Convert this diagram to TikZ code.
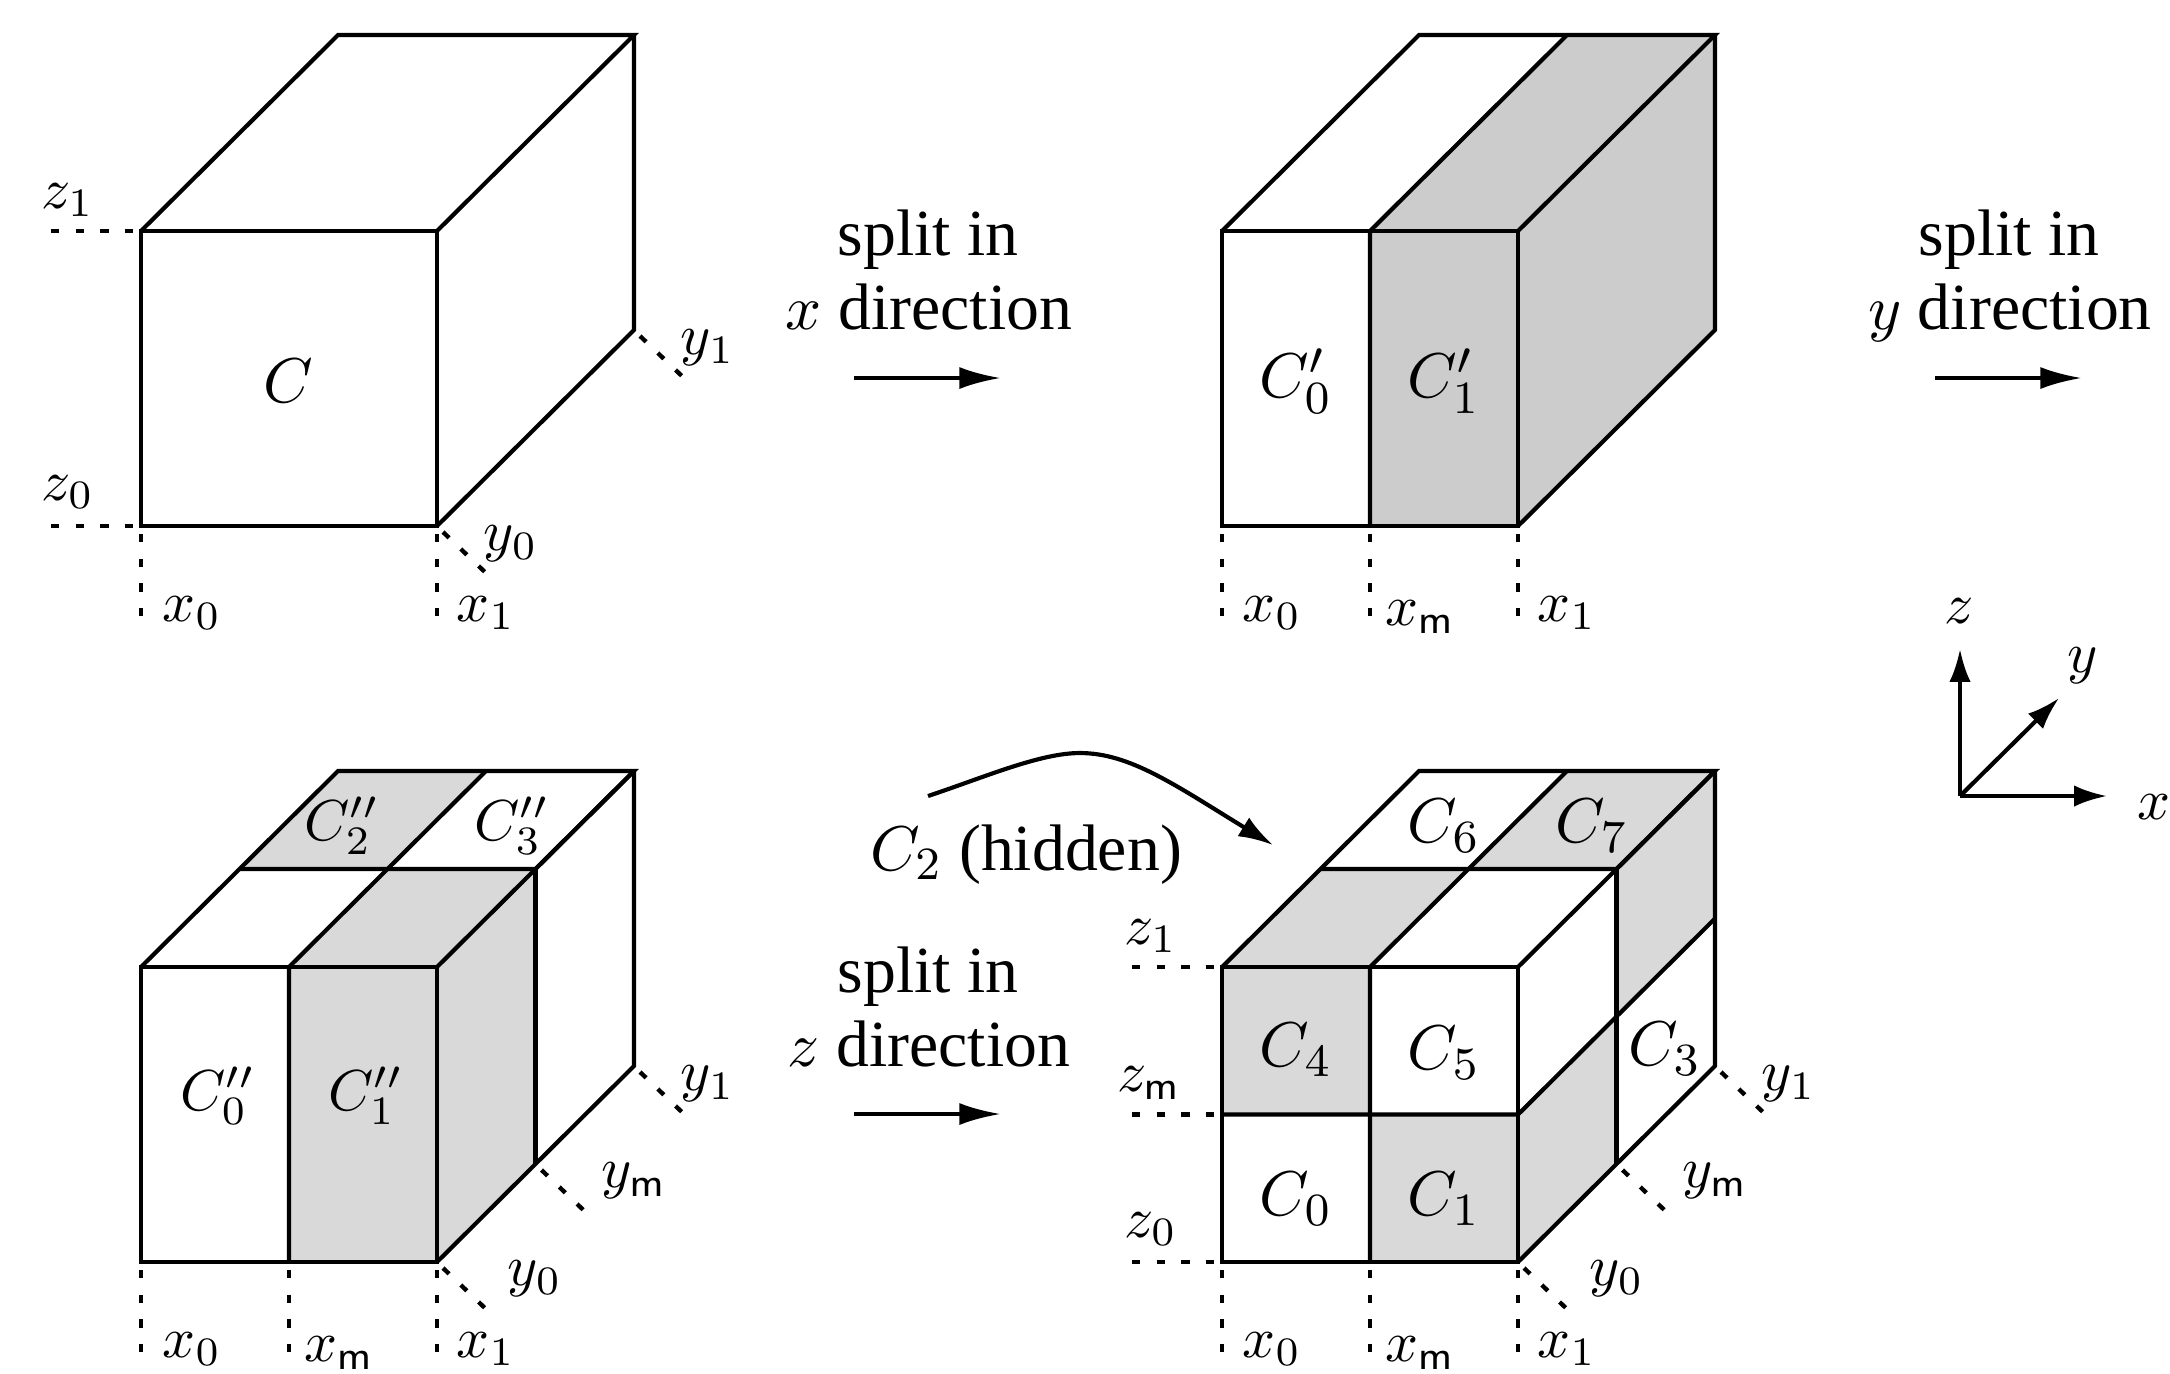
\documentclass[tikz,border=0pt]{standalone}
\usepackage[no-math]{fontspec}
\setmainfont{Liberation Serif}
\usetikzlibrary{arrows.meta,calc}
\definecolor{grayB}{HTML}{CCCCCC}
\definecolor{grayC}{HTML}{D9D9D9}
\tikzset{
  edge/.style={line width=0.72pt,line join=miter,line cap=butt},
  tick/.style={line width=0.75pt,dash pattern=on 1.45pt off 2.81pt},
  lbl/.style={inner sep=0pt,outer sep=0pt},
  cell/.style={inner sep=0pt,outer sep=0pt,font=\fontsize{10.95}{13}\selectfont},
  captxt/.style={inner sep=0pt,outer sep=0pt,anchor=base,font=\fontsize{11.4}{13}\selectfont},
  arr/.style={line width=0.72pt,-{Latex[length=7.2pt,width=3.8pt]}},
  axarr/.style={line width=0.72pt,-{Latex[length=5.7pt,width=3.7pt]}}
}
% grid of named points: <name><i><j><k>, i along x, j along depth, k upward
\newcommand\mkgrid[3]{%
  \foreach \i in {0,1,2}{\foreach \j in {0,1,2}{\foreach \k in {0,1,2}{%
    \coordinate (#1\i\j\k) at ({#2+148*\i+98.5*\j},{#3-98*\j-147.5*\k});
  }}}%
}
% dotted ticks below / beside a cube
\newcommand\xtick[2]{\coordinate (#1x#2s) at ($(#1#200)+(0,8)$);\coordinate (#1x#2e) at ($(#1#200)+(0,90)$);\draw[tick] (#1x#2s) -- (#1x#2e);}
\newcommand\ytick[2]{\coordinate (#1y#2s) at ($(#12#20)+(6,6)$);\coordinate (#1y#2e) at ($(#12#20)+(50,48)$);\draw[tick] (#1y#2s) -- (#1y#2e);}
\newcommand\ztick[2]{\coordinate (#1z#2s) at ($(#100#2)+(-90,0)$);\coordinate (#1z#2e) at ($(#100#2)+(-7,0)$);\draw[tick] (#1z#2s) -- (#1z#2e);}
\begin{document}
\begin{tikzpicture}[x=0.17333pt,y=-0.17333pt]
\useasboundingbox (0,0) rectangle (2170,1373);
\mkgrid{a}{141}{526}
\mkgrid{b}{1222}{526}
\mkgrid{c}{141}{1262}
\mkgrid{d}{1222}{1262}

% ---------- cube A
\draw[edge] (a002) -- (a202) -- (a200) -- (a000) -- cycle;
\draw[edge] (a002) -- (a022) -- (a222) -- (a202);
\draw[edge] (a200) -- (a220) -- (a222);
\foreach \n in {0,2}{\xtick{a}{\n}\ytick{a}{\n}\ztick{a}{\n}}
\node[cell] (aC) at (288,381) {$C$};
\node[lbl] (az1) at (68,200) {$z_1$};
\node[lbl] (az0) at (68,492) {$z_0$};
\node[lbl] (ax0) at (192,613) {$x_0$};
\node[lbl] (ax1) at (486,613) {$x_1$};
\node[lbl] (ay0) at (511,544) {$y_0$};
\node[lbl] (ay1) at (708,348) {$y_1$};

% ---------- cube B
\fill[grayB] (b102) -- (b202) -- (b222) -- (b220) -- (b200) -- (b100) -- cycle;
\fill[grayB] (b102) -- (b122) -- (b222) -- (b202) -- cycle;
\draw[edge] (b002) -- (b202) -- (b200) -- (b000) -- cycle;
\draw[edge] (b002) -- (b022) -- (b222) -- (b202);
\draw[edge] (b200) -- (b220) -- (b222);
\draw[edge] (b100) -- (b102) -- (b122);
\foreach \n in {0,1,2}{\xtick{b}{\n}}
\node[cell] (bC0) at (1296,381) {$C'_0$};
\node[cell] (bC1) at (1444,381) {$C'_1$};
\node[lbl] (bx0) at (1272,613) {$x_0$};
\node[lbl] (bxm) at (1420,617) {$x_{\mathsf{m}}$};
\node[lbl] (bx1) at (1567,613) {$x_1$};

% ---------- cube C
\fill[grayC] (c100) -- (c200) -- (c202) -- (c102) -- cycle;
\fill[grayC] (c102) -- (c112) -- (c212) -- (c202) -- cycle;
\fill[grayC] (c200) -- (c210) -- (c212) -- (c202) -- cycle;
\fill[grayC] (c012) -- (c022) -- (c122) -- (c112) -- cycle;
\draw[edge] (c002) -- (c202) -- (c200) -- (c000) -- cycle;
\draw[edge] (c002) -- (c022) -- (c222) -- (c202);
\draw[edge] (c200) -- (c220) -- (c222);
\draw[edge] (c100) -- (c102) -- (c122);
\draw[edge] (c012) -- (c212) -- (c222);
\draw[edge] (c212) -- (c210);
\foreach \n in {0,1,2}{\xtick{c}{\n}\ytick{c}{\n}}
\node[lbl] (cC0) at (218,1096) {$C''_0$};
\node[lbl] (cC1) at (366,1096) {$C''_1$};
\node[lbl] (cC2) at (342,826) {$C''_2$};
\node[lbl] (cC3) at (512,826) {$C''_3$};
\node[lbl] (cx0) at (192,1349) {$x_0$};
\node[lbl] (cxm) at (339,1353) {$x_{\mathsf{m}}$};
\node[lbl] (cx1) at (486,1349) {$x_1$};
\node[lbl] (cy0) at (535,1279) {$y_0$};
\node[lbl] (cym) at (634,1181) {$y_{\mathsf{m}}$};
\node[lbl] (cy1) at (708,1084) {$y_1$};

% ---------- cube D
\fill[grayC] (d001) -- (d101) -- (d102) -- (d002) -- cycle;
\fill[grayC] (d100) -- (d200) -- (d201) -- (d101) -- cycle;
\fill[grayC] (d002) -- (d102) -- (d112) -- (d012) -- cycle;
\fill[grayC] (d112) -- (d122) -- (d222) -- (d212) -- cycle;
\fill[grayC] (d200) -- (d210) -- (d211) -- (d201) -- cycle;
\fill[grayC] (d211) -- (d221) -- (d222) -- (d212) -- cycle;
\draw[edge] (d002) -- (d202) -- (d200) -- (d000) -- cycle;
\draw[edge] (d002) -- (d022) -- (d222) -- (d202);
\draw[edge] (d200) -- (d220) -- (d222);
\draw[edge] (d100) -- (d102) -- (d122);
\draw[edge] (d012) -- (d212) -- (d222);
\draw[edge] (d212) -- (d210);
\draw[edge] (d001) -- (d201) -- (d221);
\foreach \n in {0,1,2}{\xtick{d}{\n}\ytick{d}{\n}\ztick{d}{\n}}
\node[cell] (dC0) at (1296,1199) {$C_0$};
\node[cell] (dC1) at (1444,1199) {$C_1$};
\node[cell] (dC3) at (1665,1049) {$C_3$};
\node[cell] (dC4) at (1296,1050) {$C_4$};
\node[cell] (dC5) at (1444,1053) {$C_5$};
\node[cell] (dC6) at (1444,826) {$C_6$};
\node[cell] (dC7) at (1592,826) {$C_7$};
\node[lbl] (dz1) at (1151,936) {$z_1$};
\node[lbl] (dzm) at (1149,1083) {$z_{\mathsf{m}}$};
\node[lbl] (dz0) at (1151,1229) {$z_0$};
\node[lbl] (dx0) at (1272,1349) {$x_0$};
\node[lbl] (dxm) at (1420,1353) {$x_{\mathsf{m}}$};
\node[lbl] (dx1) at (1567,1349) {$x_1$};
\node[lbl] (dy0) at (1617,1279) {$y_0$};
\node[lbl] (dym) at (1715,1181) {$y_{\mathsf{m}}$};
\node[lbl] (dy1) at (1789,1084) {$y_1$};

% ---------- split captions and arrows
\node[captxt] (s1a) at (928,255) {split in};
\node[captxt] (s1b) at (929,329) {$x$ direction};
\coordinate (s1s) at (854,378); \coordinate (s1e) at (1001,378);
\draw[arr] (s1s) -- (s1e);
\node[captxt] (s2a) at (2009,255) {split in};
\node[captxt] (s2b) at (2010,329) {$y$ direction};
\coordinate (s2s) at (1935,378); \coordinate (s2e) at (2082,378);
\draw[arr] (s2s) -- (s2e);
\node[captxt] (s3a) at (928,992) {split in};
\node[captxt] (s3b) at (929,1066) {$z$ direction};
\coordinate (s3s) at (854,1114); \coordinate (s3e) at (1001,1114);
\draw[arr] (s3s) -- (s3e);

% ---------- hidden label
\node[captxt] (hid) at (1026,870) {$C_2$ (hidden)};
\coordinate (hs) at (928,796); \coordinate (hp) at (1080,753); \coordinate (he) at (1273,845);
\draw[line width=0.72pt,-{Latex[length=6pt,width=3.8pt]}] (hs) .. controls (985,777) and (1040,753) .. (hp) .. controls (1130,753) and (1175,785) .. (he);

% ---------- axes
\coordinate (o) at (1960,796);
\coordinate (oz) at (1960,649);
\coordinate (ox) at (2107,796);
\coordinate (oy) at (2059,698);
\draw[axarr] (o) -- (oz);
\draw[axarr] (o) -- (ox);
\draw[axarr] (o) -- (oy);
\node[lbl] (lz) at (1959,611) {$z$};
\node[lbl] (ly) at (2083,666) {$y$};
\node[lbl] (lx) at (2154,807) {$x$};
\end{tikzpicture}
\end{document}
